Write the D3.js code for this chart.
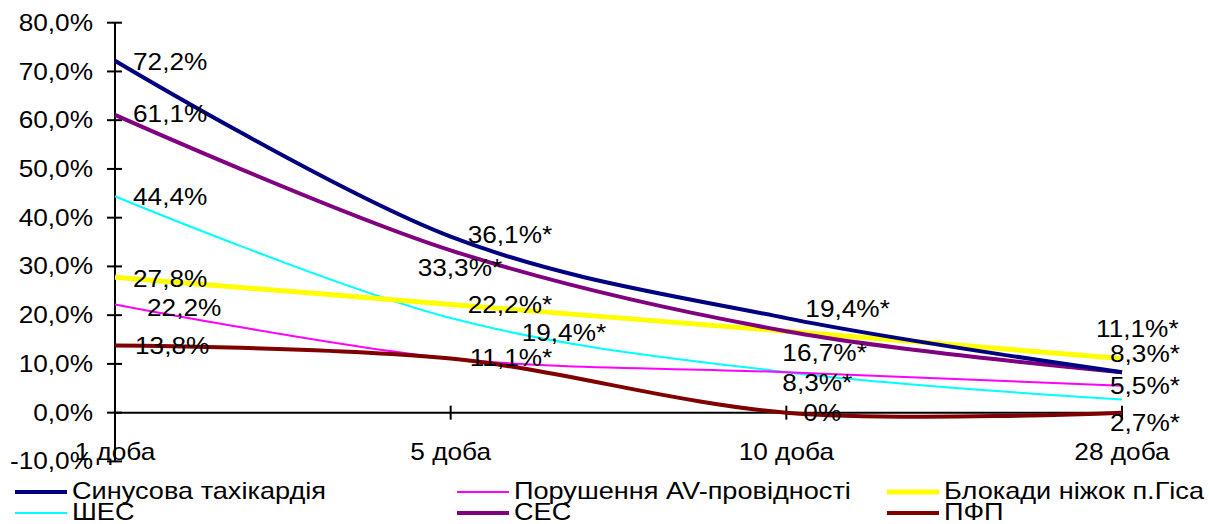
<!DOCTYPE html>
<html>
<head>
<meta charset="utf-8">
<script src="https://cdnjs.cloudflare.com/ajax/libs/d3/7.8.5/d3.min.js"></script>
<style>
  body { margin: 0; background: #fff; }
  svg { display: block; }
  text { font-family: "Liberation Sans", Arial, sans-serif; font-size: 23px; fill: #000; }
  .legend text { font-size: 23.8px; }
</style>
</head>
<body>
<div id="chart"></div>
<script>
// categories and values (percent)
const categories = ["1 доба", "5 доба", "10 доба", "28 доба"];
const yTicks = [-10, 0, 10, 20, 30, 40, 50, 60, 70, 80];

const sinusTachy = [72.2, 36.1, 19.4, 8.3];
const avBlock = [22.2, 11.1, 8.3, 5.5];
const bundleBlock = [27.8, 22.2, 16.7, 11.1];
const shes = [44.4, 19.4, 8.3, 2.7];
const ses = [61.1, 33.3, 16.7, 8.3];
const pfp = [13.8, 11.1, 0, 0];

// significance marks (*) per point
const sinusStars = [0, 1, 1, 1];
const avStars = [0, 1, 1, 1];
const bundleStars = [0, 1, 1, 1];
const shesStars = [0, 1, 1, 1];
const sesStars = [0, 1, 1, 1];
const pfpStars = [0, 1, 0, 1];

const series = [
  { name: "Синусова тахікардія", values: sinusTachy, stars: sinusStars, color: "#000080", w: 4,
    lab: [[18, 1], [17, -2], [19, -9], [-12, -18]] },
  { name: "Порушення AV-провідності", values: avBlock, stars: avStars, color: "#ff00ff", w: 2,
    lab: [[32, 3], [19, -1], null, [-12, 0]] },
  { name: "Блокади ніжок п.Гіса", values: bundleBlock, stars: bundleStars, color: "#ffff00", w: 5,
    lab: [[18, 2], [17, 0], null, [-26, -30]] },
  { name: "ШЕС", values: shes, stars: shesStars, color: "#00ffff", w: 2,
    lab: [[18, 1], [71, 15], [-4, 11], [-12, 23]] },
  { name: "СЕС", values: ses, stars: sesStars, color: "#800080", w: 4,
    lab: [[18, -1], [-33, 18], [-4, 22], null] },
  { name: "ПФП", values: pfp, stars: pfpStars, color: "#800000", w: 4,
    lab: [[20, 1], null, [17, 0], null] }
];

const width = 1210, height = 524;
const sx = 1.14; // text is a bit wider than Arial

const svg = d3.select("#chart").append("svg")
  .attr("width", width).attr("height", height);

const x = d3.scalePoint().domain(categories).range([115, 1122]);
const y = d3.scaleLinear().domain([-10, 80]).range([461.4, 22.7]);

function addText(g, px, py, str, anchor) {
  return g.append("text")
    .attr("transform", `translate(${px},${py}) scale(${sx},1)`)
    .attr("text-anchor", anchor || "start")
    .attr("dy", "0.35em")
    .text(str);
}

const fmt = v => v === 0 ? "0%" : v.toFixed(1).replace(".", ",") + "%";
const tickFmt = v => v.toFixed(1).replace(".", ",") + "%";

// axes
const axes = svg.append("g").attr("stroke", "#000").attr("stroke-width", 2);
axes.append("line").attr("x1", x(categories[0])).attr("x2", x(categories[0]))
  .attr("y1", y(80)).attr("y2", y(-10));
axes.selectAll(".yt").data(yTicks).join("line")
  .attr("x1", x(categories[0]) - 8).attr("x2", x(categories[0]) + 7)
  .attr("y1", d => y(d)).attr("y2", d => y(d));
axes.append("line").attr("x1", x(categories[0])).attr("x2", x(categories[3]))
  .attr("y1", y(0)).attr("y2", y(0));
axes.selectAll(".xt").data(categories.slice(1)).join("line")
  .attr("x1", d => x(d)).attr("x2", d => x(d))
  .attr("y1", y(0) - 7).attr("y2", y(0) + 7);

const tl = svg.append("g");
yTicks.forEach(t => addText(tl, 93, y(t), tickFmt(t), "end"));
categories.forEach(c => addText(tl, x(c), 452, c, "middle"));

// lines
const line = d3.line()
  .x((d, i) => x(categories[i]))
  .y(d => y(d))
  .curve(d3.curveCardinal.tension(0));

const order = [3, 1, 2, 4, 0, 5];
svg.append("g").selectAll("path").data(order.map(i => series[i])).join("path")
  .attr("fill", "none")
  .attr("stroke", d => d.color)
  .attr("stroke-width", d => d.w)
  .attr("d", d => line(d.values));

// data labels
const lg = svg.append("g");
series.forEach(s => {
  s.values.forEach((v, i) => {
    const off = s.lab[i];
    if (!off) return;
    addText(lg, x(categories[i]) + off[0], y(v) + off[1], fmt(v) + (s.stars[i] ? "*" : ""));
  });
});

// legend
const leg = svg.append("g").attr("class", "legend");
const colX = [15, 457, 887];
const rowY = [492, 513];
series.forEach((s, i) => {
  const cx = colX[i % 3], cy = rowY[Math.floor(i / 3)];
  leg.append("line").attr("x1", cx).attr("x2", cx + 52)
    .attr("y1", cy).attr("y2", cy)
    .attr("stroke", s.color).attr("stroke-width", s.w);
  addText(leg, cx + 57, cy - 1, s.name);
});
</script>
</body>
</html>
